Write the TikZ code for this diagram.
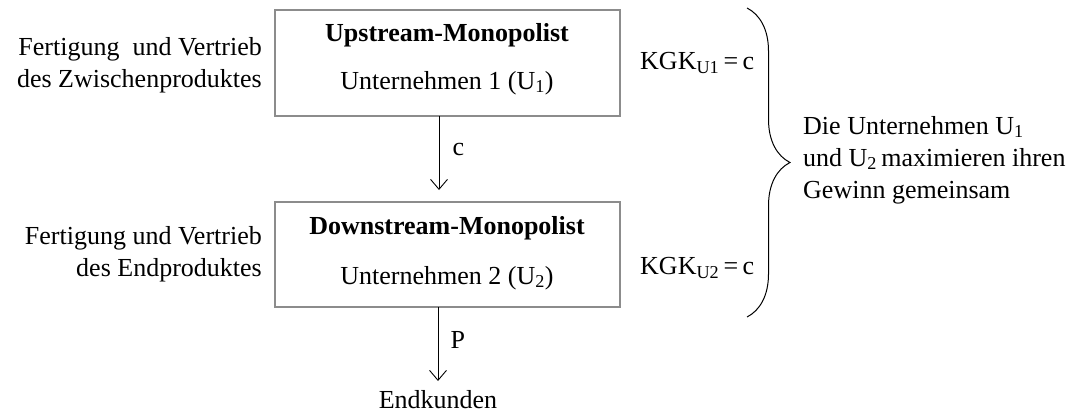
\documentclass[tikz,border=0pt]{standalone}
\usepackage{fontspec}
\setmainfont{Liberation Serif}
\usetikzlibrary{arrows.meta,decorations.pathreplacing}
\begin{document}
\begin{tikzpicture}[x=1pt,y=-1pt,font=\fontsize{26}{32}\selectfont,
  box/.style={draw=black!45,line width=1.2pt},
  flow/.style={-{Straight Barb[length=10pt,width=17pt]},line width=0.9pt}]
\useasboundingbox (0,0) rectangle (1083,417);
\draw[box] (275,10) rectangle (620,116);
\draw[box] (275,202) rectangle (620,307);

\node (up)   at (447,35)  {\textbf{Upstream-Monopolist}};
\node (u1)   at (447,83)  {Unternehmen 1 (U\textsubscript{1})};
\node (down) at (447,228) {\textbf{Downstream-Monopolist}};
\node (u2)   at (447,278) {Unternehmen 2 (U\textsubscript{2})};

\node[anchor=east,align=right,inner xsep=0pt] (zw) at (262,65)  {Fertigung \ und Vertrieb\\des Zwischenproduktes};
\node[anchor=east,align=right,inner xsep=0pt] (ep) at (262,254) {Fertigung und Vertrieb\\des Endproduktes};

\coordinate (a1) at (439,116);
\coordinate (b1) at (439,190);
\coordinate (a2) at (438,307);
\coordinate (b2) at (438,381);
\draw[flow] (a1) -- (b1);
\draw[flow] (a2) -- (b2);
\node[anchor=west] (c) at (449,150) {c};
\node[anchor=west] (p) at (447,340) {P};
\node (end) at (438,400) {Endkunden};

\node[anchor=west,inner xsep=0pt] (k1) at (640,63)  {KGK\textsubscript{U1}\,=\,c};
\node[anchor=west,inner xsep=0pt] (k2) at (640,268) {KGK\textsubscript{U2}\,=\,c};

\coordinate (bt) at (747,8);
\coordinate (bb) at (747,317);
\draw[decorate,decoration={brace,amplitude=43pt},line width=1pt] (bt) -- (bb);
\node[anchor=west,align=left,inner xsep=0pt] (max) at (803,160) {Die Unternehmen U\textsubscript{1}\\und U\textsubscript{2}\,maximieren ihren\\Gewinn gemeinsam};
\end{tikzpicture}
\end{document}
